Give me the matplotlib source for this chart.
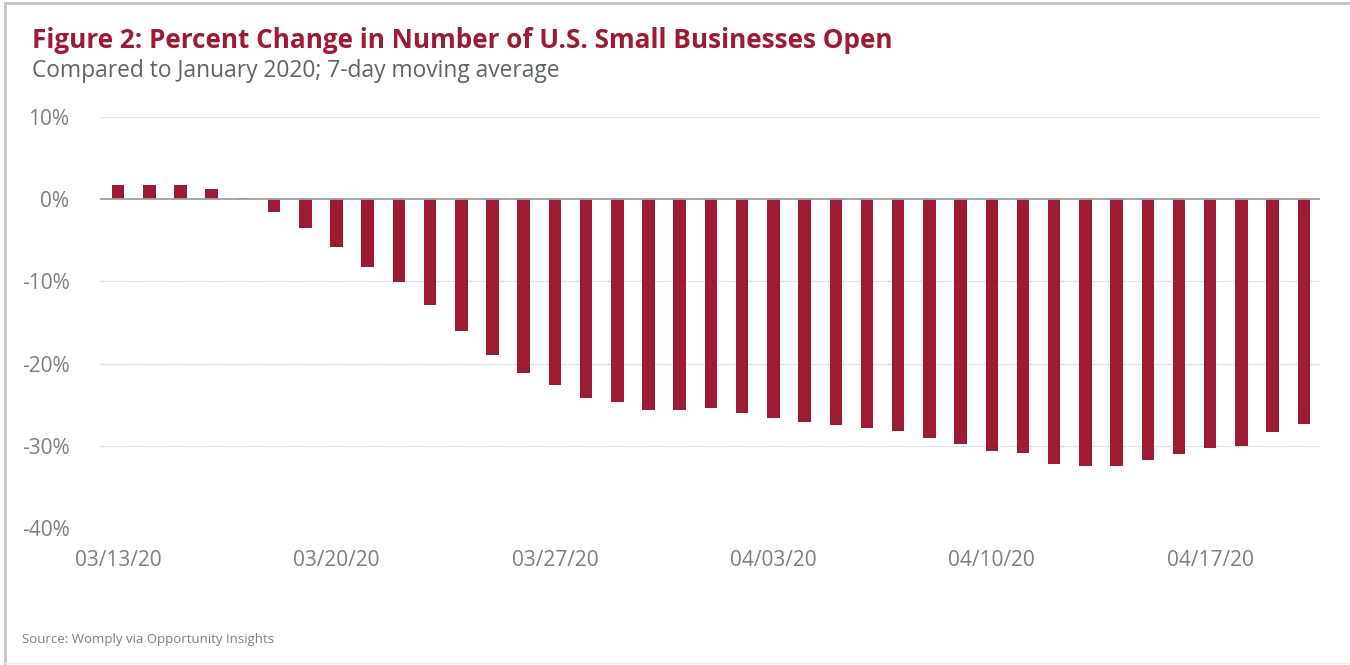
import matplotlib
matplotlib.use("Agg")
import matplotlib.pyplot as plt
import numpy as np
import pandas as pd
from matplotlib.lines import Line2D

# ---- data ----
dates = pd.date_range("2020-03-13", "2020-04-20", freq="D")
values = [1.7, 1.7, 1.7, 1.25, 0.15, -1.5, -3.5, -5.8, -8.3, -10.1,
          -12.9, -16.0, -19.0, -21.1, -22.6, -24.2, -24.7, -25.6, -25.7, -25.4,
          -26.0, -26.6, -27.1, -27.5, -27.8, -28.2, -29.0, -29.8, -30.6, -30.9,
          -32.2, -32.5, -32.5, -31.7, -31.0, -30.3, -30.0, -28.3, -27.4]
xtick_labels = ["03/13/20", "03/20/20", "03/27/20", "04/03/20", "04/10/20", "04/17/20"]
ytick_values = [10, 0, -10, -20, -30, -40]

title = "Figure 2: Percent Change in Number of U.S. Small Businesses Open"
subtitle = "Compared to January 2020; 7-day moving average"
source = "Source: Womply via Opportunity Insights"

RED = "#9E1B34"
GRAY_TXT = "#7f7f7f"

plt.rcParams["font.family"] = ["Open Sans", "DejaVu Sans"]

W, H = 1350, 665
fig = plt.figure(figsize=(W / 100, H / 100), dpi=100)
ax = fig.add_axes([100 / W, 1 - 528 / H, 1220 / W, 411 / H])

x = np.arange(len(values))
ax.bar(x, values, width=0.4, color=RED, zorder=3)

ax.set_xlim(-0.58, len(values) - 1 + 0.52)
ax.set_ylim(-40, 10)

ax.set_yticks(ytick_values)
ax.set_yticklabels([f"{v}%" for v in ytick_values])
tick_pos = [dates.get_loc(pd.Timestamp(pd.to_datetime(l, format="%m/%d/%y"))) for l in xtick_labels]
ax.set_xticks(tick_pos)
ax.set_xticklabels(xtick_labels)

ax.tick_params(axis="both", length=0, labelsize=15, labelcolor=GRAY_TXT)
ax.tick_params(axis="y", pad=22)
ax.tick_params(axis="x", pad=16)

for v in ytick_values:
    if v == 0:
        continue
    ax.axhline(v, color="#c8c8c8", lw=0.9, ls=(0, (1, 1)), zorder=1)
ax.axhline(0, color="#a0a0a0", lw=1.3, zorder=4)

for s in ax.spines.values():
    s.set_visible(False)

fig.text(32 / W, 1 - 41 / H, title, fontsize=18.8, fontweight="bold", color=RED,
         va="center", ha="left")
fig.text(32 / W, 1 - 71 / H, subtitle, fontsize=16.4, color="#5f6468",
         va="center", ha="left")
fig.text(22 / W, 1 - 639 / H, source, fontsize=9.5, color=GRAY_TXT,
         va="center", ha="left")

# frame: top and left edges (plus faint bottom)
fig.add_artist(Line2D([5 / W, 1.0], [1 - 3 / H, 1 - 3 / H], transform=fig.transFigure,
                      color="#c4c4c4", lw=2))
fig.add_artist(Line2D([5 / W, 5 / W], [1 - 3 / H, 2 / H], transform=fig.transFigure,
                      color="#c4c4c4", lw=2))
fig.add_artist(Line2D([5 / W, 1.0], [2 / H, 2 / H], transform=fig.transFigure,
                      color="#ececec", lw=1))

fig.savefig("out.png", dpi=100)
